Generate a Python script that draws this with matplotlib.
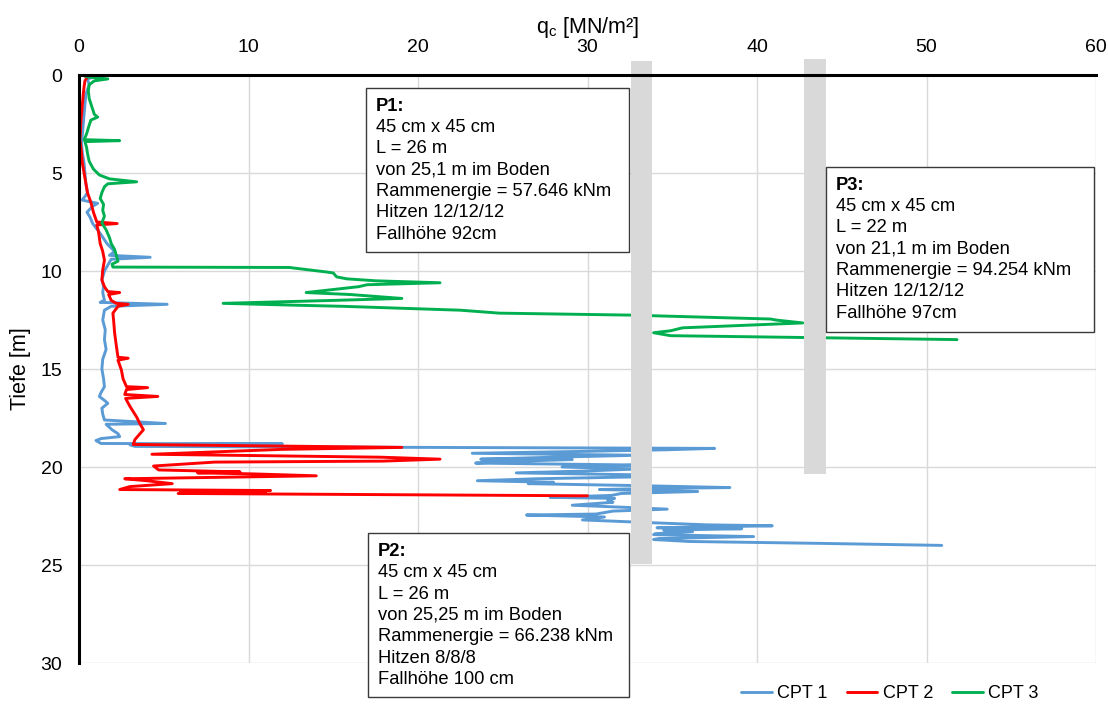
import matplotlib
matplotlib.use("Agg")
import matplotlib.pyplot as plt
from matplotlib.patches import Rectangle

plt.rcParams['font.family'] = ['Liberation Sans', 'DejaVu Sans']
plt.rcParams['mathtext.fontset'] = 'custom'
plt.rcParams['mathtext.rm'] = 'Liberation Sans'

# ---- CPT soundings: depth [m] and cone resistance qc [MN/m²] ----
cpt1_depth = [0.0, 0.1, 0.2, 0.5, 1.0, 1.5, 2.0, 2.5, 3.0, 3.5, 4.0, 4.5, 5.0, 5.5,
              6.0, 6.2, 6.38, 6.55, 6.7, 7.0, 7.25, 7.57, 8.07, 8.6, 9.0, 9.2, 9.3,
              9.4, 9.7, 10.0, 10.45, 10.8, 11.1, 11.5, 11.6, 11.7, 11.8, 12.0, 12.5,
              13.0, 13.5, 14.0, 14.5, 15.0, 15.5, 15.9, 16.2, 16.4, 16.6, 16.75,
              17.0, 17.3, 17.6, 17.78, 17.82, 17.9, 18.1, 18.3, 18.45, 18.55, 18.65,
              18.8, 18.82, 18.86, 18.95, 19.05, 19.12, 19.2, 19.3, 19.4, 19.5, 19.6,
              19.62, 19.7, 19.8, 19.9, 20.0, 20.1, 20.2, 20.3, 20.4, 20.5, 20.6,
              20.7, 20.78, 20.85, 20.95, 21.05, 21.1, 21.15, 21.25, 21.35, 21.45,
              21.55, 21.6, 21.7, 21.8, 21.95, 22.05, 22.15, 22.25, 22.4, 22.45,
              22.55, 22.7, 22.85, 22.95, 23.0, 23.1, 23.15, 23.22, 23.3, 23.4,
              23.45, 23.55, 23.65, 23.7, 23.8, 23.9, 24.0]
cpt1_qc = [0.3, 0.9, 0.5, 0.6, 0.4, 0.35, 0.3, 0.25, 0.2, 0.15, 0.2, 0.3, 0.35, 0.4,
           0.5, 0.35, 0.18, 1.1, 0.8, 0.47, 0.65, 0.8, 1.24, 1.65, 2.1, 1.8, 4.2,
           1.9, 1.7, 1.5, 1.35, 1.45, 1.4, 1.5, 1.25, 5.2, 1.9, 1.5, 1.4,
           1.55, 1.5, 1.6, 1.4, 1.35, 1.45, 1.5, 1.3, 1.2, 1.5, 1.7,
           1.35, 1.4, 1.5, 5.1, 1.6, 1.7, 1.95, 2.3, 2.4, 1.3, 1.0,
           1.3, 12.0, 3.0, 3.3, 37.5, 34.7, 30.0, 23.2, 33.0, 28.0, 23.7,
           29.1, 26.0, 23.4, 33.0, 28.5, 33.0, 30.0, 25.8, 33.0, 33.2, 27.0,
           23.5, 28.0, 26.5, 33.0, 38.4, 33.5, 30.7, 36.5, 32.0, 31.4,
           27.8, 31.6, 31.2, 31.5, 29.1, 32.0, 34.7, 31.5, 30.5, 26.4,
           31.0, 29.7, 34.0, 37.0, 40.9, 34.1, 39.1, 34.5, 36.2, 34.0,
           33.9, 39.8, 34.2, 33.9, 36.0, 44.0, 50.9]

cpt2_depth = [0.0, 0.1, 0.3, 0.6, 1.0, 1.5, 2.0, 2.5, 3.0, 3.3, 3.6, 4.0, 4.5, 5.0,
              5.5, 6.0, 6.5, 7.0, 7.5, 7.58, 7.65, 8.0, 8.6, 9.0, 9.45, 9.95,
              10.45, 10.8, 11.05, 11.1, 11.2, 11.5, 11.65, 11.7, 11.8, 12.15, 12.6,
              13.15, 13.8, 14.4, 14.45, 14.55, 15.05, 15.5, 15.9, 15.95, 16.05,
              16.3, 16.4, 16.5, 16.9, 17.45, 17.8, 18.1, 18.4, 18.6, 18.85, 19.0,
              19.1, 19.35, 19.5, 19.6, 19.7, 19.75, 19.95, 20.15, 20.25, 20.3,
              20.35, 20.45, 20.6, 20.7, 20.85, 21.0, 21.15, 21.2, 21.25, 21.3,
              21.35, 21.47]
cpt2_qc = [0.2, 0.5, 0.35, 0.3, 0.25, 0.2, 0.15, 0.1, 0.08, 0.05, 0.1, 0.15, 0.2, 0.3,
           0.4, 0.5, 0.7, 0.85, 1.05, 2.25, 1.05, 1.15, 1.25, 1.4, 1.5, 1.4,
           1.35, 1.5, 1.7, 2.4, 1.75, 1.9, 2.2, 2.9, 2.3, 2.0, 2.05,
           2.1, 2.2, 2.3, 2.9, 2.3, 2.5, 2.6, 2.8, 4.05, 2.8,
           2.7, 4.65, 2.75, 3.0, 3.4, 3.6, 3.8, 3.5, 3.3, 3.2, 19.05,
           12.0, 4.3, 17.8, 21.3, 17.9, 8.0, 4.4, 4.7, 9.5, 7.0,
           10.2, 14.0, 2.7, 4.0, 5.5, 3.0, 2.4, 11.3, 6.0, 11.0,
           5.85, 30.0]

cpt3_depth = [0.0, 0.1, 0.2, 0.3, 0.5, 0.8, 1.2, 1.6, 2.0, 2.15, 2.3, 2.7, 3.0, 3.3,
              3.35, 3.4, 3.7, 4.0, 4.4, 4.8, 5.1, 5.3, 5.45, 5.55, 5.7, 6.0, 6.3,
              6.6, 6.9, 7.2, 7.55, 7.9, 8.3, 8.6, 8.9, 9.2, 9.5, 9.65, 9.8, 9.82,
              10.05, 10.1, 10.3, 10.4, 10.5, 10.6, 10.7, 10.8, 11.1, 11.2, 11.4,
              11.5, 11.65, 11.75, 11.8, 12.0, 12.15, 12.25, 12.45, 12.5, 12.65,
              12.9, 13.05, 13.15, 13.3, 13.5]
cpt3_qc = [0.2, 0.5, 1.7, 0.9, 0.6, 0.55, 0.6, 0.75, 0.9, 1.1, 0.7, 0.55, 0.45, 0.3,
           2.4, 0.35, 0.45, 0.5, 0.6, 0.85, 1.2, 1.8, 3.4, 1.7, 1.5, 1.35, 1.25,
           1.45, 1.4, 1.5, 1.35, 1.6, 1.8, 1.9, 2.1, 2.2, 2.3, 1.95, 2.0, 12.4,
           14.6, 15.0, 15.2, 15.8, 17.5, 21.3, 17.0, 16.5, 13.4, 16.0, 19.05,
           15.0, 8.5, 13.0, 15.5, 22.5, 24.8, 32.5, 40.8, 41.1, 42.7,
           35.6, 34.9, 33.9, 34.9, 51.8]

series_labels = ['CPT 1', 'CPT 2', 'CPT 3']
series_colors = ['#5B9BD5', '#FF0000', '#00B050']

# ---- piles: x-extent of the bar, top and toe of the drawn bar ----
pile_x = [32.55, 42.8]
pile_top = [-0.7, -0.8]
pile_toe = [24.95, 20.35]
pile_width = 1.25

# ---- pile description boxes ----
box_lines = {
    'P1': ['P1:', '45 cm x 45 cm', 'L = 26 m', 'von 25,1 m im Boden',
           'Rammenergie = 57.646 kNm', 'Hitzen 12/12/12', 'Fallhöhe 92cm'],
    'P2': ['P2:', '45 cm x 45 cm', 'L = 26 m', 'von 25,25 m im Boden',
           'Rammenergie = 66.238 kNm', 'Hitzen 8/8/8', 'Fallhöhe 100 cm'],
    'P3': ['P3:', '45 cm x 45 cm', 'L = 22 m', 'von 21,1 m im Boden',
           'Rammenergie = 94.254 kNm', 'Hitzen 12/12/12', 'Fallhöhe 97cm'],
}
# (x0, top, x1, bottom) in data units
box_extent = {
    'P1': (16.93, 0.66, 32.45, 9.03),
    'P2': (17.05, 23.37, 32.45, 31.72),
    'P3': (44.07, 4.69, 59.88, 13.11),
}

x_ticks = [0, 10, 20, 30, 40, 50, 60]
y_ticks = [0, 5, 10, 15, 20, 25, 30]

W, H = 1108, 704
fig = plt.figure(figsize=(W / 100, H / 100), dpi=100)
ax = fig.add_axes([79 / W, 1 - 663 / H, (1096 - 79) / W, (663 - 75) / H])

for d, q, lab, col in zip([cpt1_depth, cpt2_depth, cpt3_depth],
                          [cpt1_qc, cpt2_qc, cpt3_qc],
                          series_labels, series_colors):
    ax.plot(q, d, color=col, lw=2.1, label=lab, solid_joinstyle='round',
            solid_capstyle='round', zorder=2)

for px, top, toe in zip(pile_x, pile_top, pile_toe):
    ax.add_patch(Rectangle((px, top), pile_width, toe - top, facecolor='#D9D9D9',
                           edgecolor='none', zorder=3, clip_on=False))

line_step = 1.09
for key, lines in box_lines.items():
    x0, top, x1, bot = box_extent[key]
    ax.add_patch(Rectangle((x0, top), x1 - x0, bot - top, facecolor='white',
                           edgecolor='#3a3a3a', lw=1.0, zorder=4, clip_on=False))
    for i, txt in enumerate(lines):
        ax.text(x0 + 0.6, top + 0.93 + i * line_step, txt, fontsize=13.2,
                fontweight='bold' if i == 0 else 'normal', va='center', ha='left',
                color='black', zorder=5, clip_on=False)

ax.set_xlim(0, 60)
ax.set_ylim(30, 0)
ax.set_xticks(x_ticks)
ax.set_yticks(y_ticks)
ax.xaxis.tick_top()
ax.xaxis.set_label_position('top')
ax.tick_params(axis='both', length=0, labelsize=14, colors='black')
ax.tick_params(axis='x', pad=14)
ax.tick_params(axis='y', pad=12)
ax.grid(True, color='#D9D9D9', lw=1.0, zorder=0)
ax.set_axisbelow(True)
for s in ['right', 'bottom']:
    ax.spines[s].set_visible(False)
for s in ['top', 'left']:
    ax.spines[s].set_linewidth(2.2)
    ax.spines[s].set_color('black')
    ax.spines[s].set_zorder(6)

ax.set_xlabel('q$_{\\mathregular{c}}$ [MN/m²]', fontsize=15.5, labelpad=4)
ax.set_ylabel('Tiefe [m]', fontsize=15.5, labelpad=7)

fig.legend(*ax.get_legend_handles_labels(), loc='center', ncol=3, frameon=False,
           bbox_to_anchor=(890 / W, 1 - 694 / H), fontsize=13, handlelength=1.7,
           handletextpad=0.3, columnspacing=1.05, borderaxespad=0, borderpad=0)

fig.savefig('out.png', dpi=100)
